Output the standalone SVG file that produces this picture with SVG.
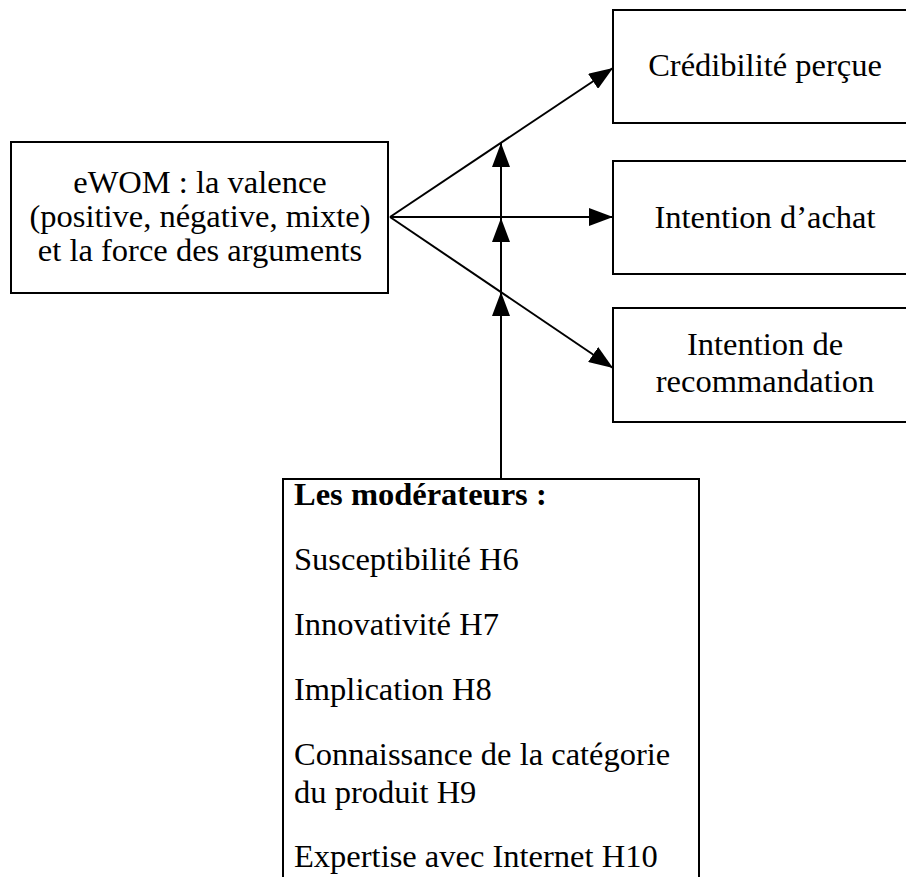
<svg xmlns="http://www.w3.org/2000/svg" width="906" height="877" viewBox="0 0 906 877">
<defs>
<style>
.box{fill:#fff;stroke:#000;stroke-width:2}
.t{font-family:'Liberation Serif',serif;font-size:32.5px;fill:#000}
.c{text-anchor:middle}
.b{font-weight:bold}
.ln{stroke:#000;stroke-width:2;fill:none}
</style>
<marker id="ah" viewBox="0 0 24 18" refX="24" refY="9" markerWidth="24" markerHeight="18" markerUnits="userSpaceOnUse" orient="auto">
<path d="M0,0 L24,9 L0,18 Z" fill="#000"/>
</marker>
</defs>
<rect width="906" height="877" fill="#fff"/>
<g id="connectors">
<line class="ln" x1="390" y1="217" x2="613" y2="68" marker-end="url(#ah)"/>
<line class="ln" x1="390" y1="217" x2="613" y2="217" marker-end="url(#ah)"/>
<line class="ln" x1="390" y1="217" x2="613" y2="368" marker-end="url(#ah)"/>
<line class="ln" x1="501" y1="478" x2="501" y2="292" marker-end="url(#ah)"/>
<line class="ln" x1="501" y1="292" x2="501" y2="218" marker-end="url(#ah)"/>
<line class="ln" x1="501" y1="218" x2="501" y2="143" marker-end="url(#ah)"/>
</g>
<g id="ewom">
<rect class="box" x="11" y="142" width="377" height="151"/>
<text class="t c" x="200" y="193">eWOM : la valence</text>
<text class="t c" x="200" y="227">(positive, négative, mixte)</text>
<text class="t c" x="200" y="261">et la force des arguments</text>
</g>
<g id="credibilite">
<rect class="box" x="613" y="10" width="320" height="113"/>
<text class="t c" x="765" y="76">Crédibilité perçue</text>
</g>
<g id="achat">
<rect class="box" x="613" y="161" width="320" height="113"/>
<text class="t c" x="765" y="228">Intention d’achat</text>
</g>
<g id="recommandation">
<rect class="box" x="613" y="308" width="320" height="114"/>
<text class="t c" x="765" y="355">Intention de</text>
<text class="t c" x="765" y="392">recommandation</text>
</g>
<g id="moderateurs">
<rect class="box" x="283" y="479" width="416" height="420"/>
<text class="t b" x="294" y="505">Les modérateurs :</text>
<text class="t" x="294" y="570">Susceptibilité H6</text>
<text class="t" x="294" y="635">Innovativité H7</text>
<text class="t" x="294" y="700">Implication H8</text>
<text class="t" x="294" y="765">Connaissance de la catégorie</text>
<text class="t" x="294" y="803">du produit H9</text>
<text class="t" x="294" y="867">Expertise avec Internet H10</text>
</g>
</svg>
